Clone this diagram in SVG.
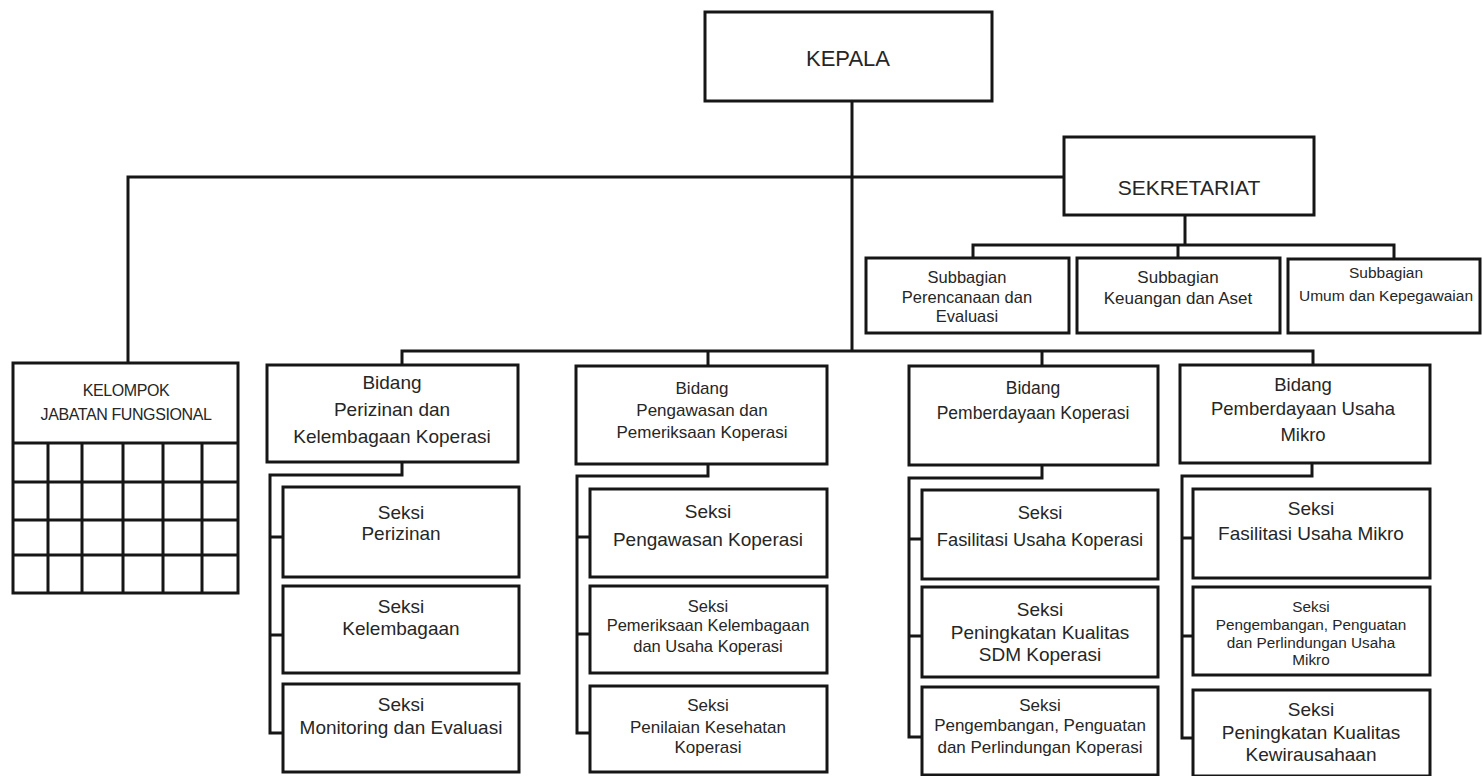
<svg xmlns="http://www.w3.org/2000/svg" width="1483" height="776" viewBox="0 0 1483 776">
<style>
.box{fill:#fff;stroke:#161616;stroke-width:3}
.ln{fill:none;stroke:#161616;stroke-width:3}
text{font-family:"Liberation Sans",Arial,sans-serif;fill:#262626;text-anchor:middle}
</style>
<rect width="1483" height="776" fill="#fff"/>
<g id="connectors">
<path class="ln" d="M852 101V351"/>
<path class="ln" d="M128 362V177H1064"/>
<path class="ln" d="M1185 215V245"/>
<path class="ln" d="M973 258V245H1394V259"/>
<path class="ln" d="M1178 245V258"/>
<path class="ln" d="M402 365V351H1313V365"/>
<path class="ln" d="M708 351V366"/>
<path class="ln" d="M1042 351V366"/>
<path class="ln" d="M402 462V475H270V733H283M270 537H283M270 635H283"/>
<path class="ln" d="M708 464V476H577V733H590M577 537H590M577 634H590"/>
<path class="ln" d="M1042 465V478H909V737H922M909 539H922M909 636H922"/>
<path class="ln" d="M1312 463V476H1182V738H1193M1182 538H1193M1182 636H1193"/>
</g>
<g id="kepala"><rect class="box" x="705" y="12" width="287" height="89"/><text x="848" y="66" font-size="22">KEPALA</text></g>
<g id="sekretariat"><rect class="box" x="1064" y="137" width="250" height="78"/><text x="1189" y="195" font-size="21">SEKRETARIAT</text></g>
<g id="subbagian-perencanaan"><rect class="box" x="866" y="258" width="203" height="75"/><text font-size="16.5"><tspan x="967" y="283">Subbagian</tspan><tspan x="967" y="303">Perencanaan dan</tspan><tspan x="967" y="322">Evaluasi</tspan></text></g>
<g id="subbagian-keuangan"><rect class="box" x="1077" y="258" width="203" height="75"/><text font-size="17"><tspan x="1178" y="283">Subbagian</tspan><tspan x="1178" y="304">Keuangan dan Aset</tspan></text></g>
<g id="subbagian-umum"><rect class="box" x="1288" y="259" width="192" height="74"/><text font-size="15.5"><tspan x="1386" y="278">Subbagian</tspan><tspan x="1386" y="301">Umum dan Kepegawaian</tspan></text></g>
<g id="kelompok">
<rect class="box" x="13" y="363" width="225" height="230"/>
<path class="ln" d="M13 443H238M13 482H238M13 520H238M13 555H238M48 443V593M82 443V593M123 443V593M163 443V593M202 443V593"/>
<text font-size="16" letter-spacing="-0.4"><tspan x="126" y="396">KELOMPOK</tspan><tspan x="126" y="420">JABATAN FUNGSIONAL</tspan></text>
</g>
<g id="bidang-perizinan"><rect class="box" x="267" y="365" width="251" height="97"/><text font-size="19"><tspan x="392" y="389">Bidang</tspan><tspan x="392" y="416">Perizinan dan</tspan><tspan x="392" y="443">Kelembagaan Koperasi</tspan></text></g>
<g id="bidang-pengawasan"><rect class="box" x="576" y="366" width="251" height="98"/><text font-size="17"><tspan x="702" y="394">Bidang</tspan><tspan x="702" y="416">Pengawasan dan</tspan><tspan x="702" y="438">Pemeriksaan Koperasi</tspan></text></g>
<g id="bidang-pemberdayaan-koperasi"><rect class="box" x="909" y="366" width="249" height="99"/><text font-size="17.5"><tspan x="1033" y="394">Bidang</tspan><tspan x="1033" y="419">Pemberdayaan Koperasi</tspan></text></g>
<g id="bidang-pemberdayaan-usaha-mikro"><rect class="box" x="1180" y="365" width="250" height="98"/><text font-size="18.5"><tspan x="1303" y="391">Bidang</tspan><tspan x="1303" y="415">Pemberdayaan Usaha</tspan><tspan x="1303" y="441">Mikro</tspan></text></g>
<g id="seksi-perizinan"><rect class="box" x="283" y="487" width="236" height="90"/><text font-size="19"><tspan x="401" y="519">Seksi</tspan><tspan x="401" y="540">Perizinan</tspan></text></g>
<g id="seksi-kelembagaan"><rect class="box" x="283" y="586" width="236" height="87"/><text font-size="19"><tspan x="401" y="613">Seksi</tspan><tspan x="401" y="635">Kelembagaan</tspan></text></g>
<g id="seksi-monitoring"><rect class="box" x="283" y="684" width="236" height="88"/><text font-size="19"><tspan x="401" y="711">Seksi</tspan><tspan x="401" y="734">Monitoring dan Evaluasi</tspan></text></g>
<g id="seksi-pengawasan"><rect class="box" x="590" y="489" width="237" height="88"/><text font-size="19"><tspan x="708" y="518">Seksi</tspan><tspan x="708" y="546">Pengawasan Koperasi</tspan></text></g>
<g id="seksi-pemeriksaan"><rect class="box" x="590" y="586" width="237" height="87"/><text font-size="16.5"><tspan x="708" y="612">Seksi</tspan><tspan x="708" y="631">Pemeriksaan Kelembagaan</tspan><tspan x="708" y="652">dan Usaha Koperasi</tspan></text></g>
<g id="seksi-penilaian"><rect class="box" x="590" y="686" width="237" height="86"/><text font-size="17"><tspan x="708" y="711">Seksi</tspan><tspan x="708" y="733">Penilaian Kesehatan</tspan><tspan x="708" y="753">Koperasi</tspan></text></g>
<g id="seksi-fasilitasi-koperasi"><rect class="box" x="922" y="490" width="236" height="89"/><text font-size="18.3"><tspan x="1040" y="519">Seksi</tspan><tspan x="1040" y="546">Fasilitasi Usaha Koperasi</tspan></text></g>
<g id="seksi-sdm-koperasi"><rect class="box" x="922" y="587" width="236" height="90"/><text font-size="19"><tspan x="1040" y="616">Seksi</tspan><tspan x="1040" y="639">Peningkatan Kualitas</tspan><tspan x="1040" y="661">SDM Koperasi</tspan></text></g>
<g id="seksi-pengembangan-koperasi"><rect class="box" x="922" y="687" width="236" height="88"/><text font-size="17"><tspan x="1040" y="711">Seksi</tspan><tspan x="1040" y="731">Pengembangan, Penguatan</tspan><tspan x="1040" y="753">dan Perlindungan Koperasi</tspan></text></g>
<g id="seksi-fasilitasi-mikro"><rect class="box" x="1193" y="489" width="237" height="89"/><text font-size="19"><tspan x="1311" y="515">Seksi</tspan><tspan x="1311" y="540">Fasilitasi Usaha Mikro</tspan></text></g>
<g id="seksi-pengembangan-mikro"><rect class="box" x="1193" y="587" width="237" height="88"/><text font-size="15.3"><tspan x="1311" y="612">Seksi</tspan><tspan x="1311" y="630">Pengembangan, Penguatan</tspan><tspan x="1311" y="648">dan Perlindungan Usaha</tspan><tspan x="1311" y="665">Mikro</tspan></text></g>
<g id="seksi-kewirausahaan"><rect class="box" x="1193" y="690" width="237" height="86"/><text font-size="19"><tspan x="1311" y="716">Seksi</tspan><tspan x="1311" y="739">Peningkatan Kualitas</tspan><tspan x="1311" y="761">Kewirausahaan</tspan></text></g>
</svg>
